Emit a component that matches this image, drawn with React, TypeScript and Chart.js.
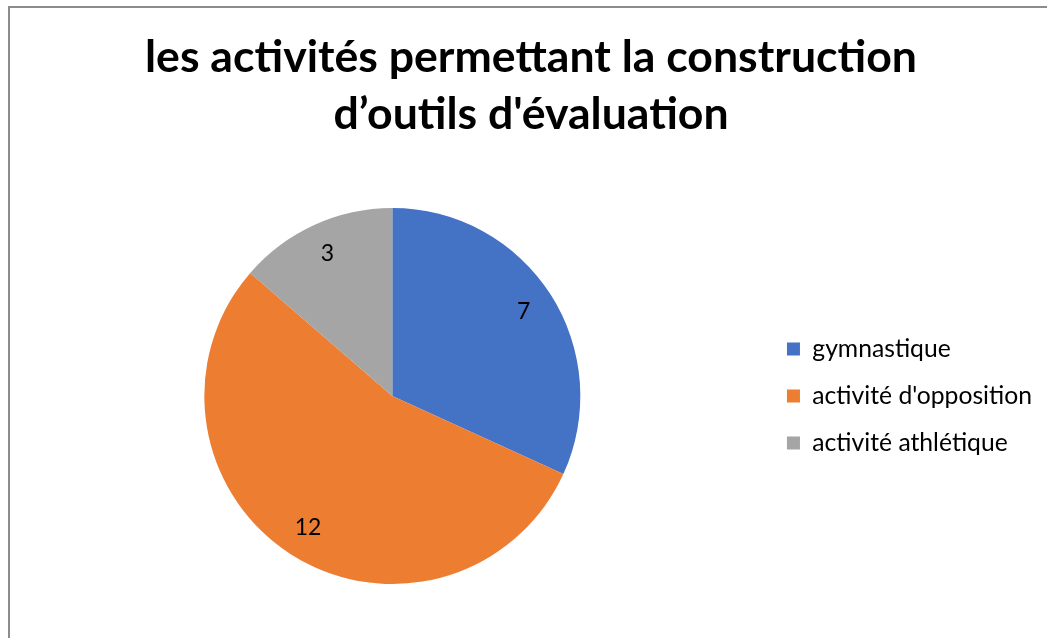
import React, { useEffect, useRef } from "react";
import { Chart, registerables } from "chart.js";

Chart.register(...registerables);

const categories = ["gymnastique", "activité d'opposition", "activité athlétique"];
const values = [7, 12, 3];
const colors = ["#4472C4", "#ED7D31", "#A5A5A5"];
const titleLines = ["les activités permettant la construction", "d’outils d'évaluation"];

const FONT = "Lato, 'Open Sans', sans-serif";

const dataLabelPlugin = {
  id: "dataLabels",
  afterDatasetsDraw(chart: any) {
    const ctx = chart.ctx;
    const meta = chart.getDatasetMeta(0);
    ctx.save();
    ctx.font = `23px ${FONT}`;
    ctx.fillStyle = "#000000";
    ctx.textAlign = "center";
    ctx.textBaseline = "middle";
    meta.data.forEach((arc: any, i: number) => {
      const p = arc.getProps(["x", "y", "startAngle", "endAngle", "outerRadius"], true);
      const mid = (p.startAngle + p.endAngle) / 2;
      const r = p.outerRadius * 0.83;
      ctx.fillText(String(values[i]), p.x + Math.cos(mid) * r, p.y + Math.sin(mid) * r);
    });
    ctx.restore();
  },
};

export default function App() {
  const ref = useRef<HTMLCanvasElement | null>(null);
  useEffect(() => {
    if (!ref.current) return;
    const chart = new Chart(ref.current, {
      type: "pie",
      data: {
        labels: categories,
        datasets: [
          {
            data: values,
            backgroundColor: colors,
            borderWidth: 0,
          },
        ],
      },
      options: {
        responsive: false,
        animation: false,
        layout: { padding: { left: 20, right: 5, top: 0, bottom: 54 } },
        plugins: {
          tooltip: { enabled: false },
          title: {
            display: true,
            text: titleLines,
            color: "#000000",
            font: { family: FONT, size: 44.6, weight: "bold", lineHeight: 1.278 },
            padding: { top: 29.5, bottom: 64.5 },
          },
          legend: {
            display: true,
            position: "right",
            fullSize: false,
            labels: {
              boxWidth: 13,
              boxHeight: 13,
              padding: 22.3,
              color: "#000000",
              font: { family: FONT, size: 24.7 },
            },
          },
        },
      },
      plugins: [dataLabelPlugin],
    });
    return () => chart.destroy();
  }, []);

  return (
    <div style={{ position: "absolute", left: 0, top: 0, width: 1047, height: 638, overflow: "hidden", background: "#fff" }}>
      <div
        style={{
          position: "absolute",
          left: 8,
          top: 6,
          width: 1100,
          height: 700,
          borderLeft: "2px solid #8c8c8c",
          borderTop: "2px solid #8c8c8c",
        }}
      />
      <canvas ref={ref} width={1047} height={638} style={{ position: "absolute", left: 0, top: 0 }} />
    </div>
  );
}
